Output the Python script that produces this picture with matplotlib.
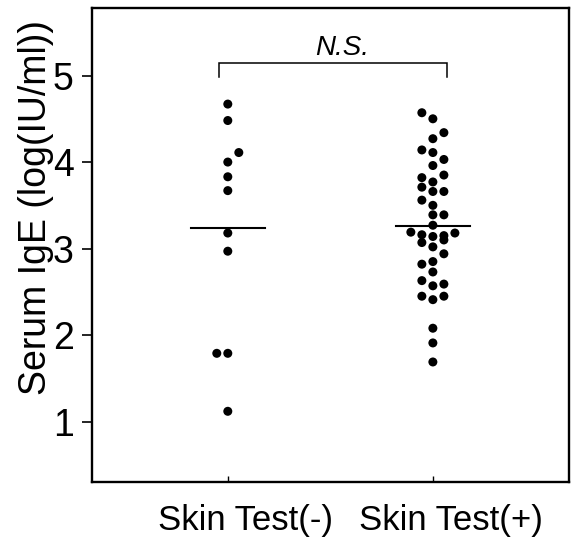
import numpy as np
import matplotlib
matplotlib.use("Agg")
import matplotlib.pyplot as plt
import matplotlib.transforms as mtransforms

plt.rcParams['font.family'] = ['Liberation Sans', 'DejaVu Sans']

groups = ["Skin Test(-)", "Skin Test(+)"]

# serum IgE values, with the swarm lane of each dot
neg_vals = [4.67, 4.48, 4.11, 4.00, 3.83, 3.67, 3.18, 2.97, 1.79, 1.79, 1.12]
neg_lane = [0, 0, 1, 0, 0, 0, 0, 0, -1, 0, 0]

pos_vals = [4.57, 4.50, 4.34, 4.27, 4.14, 4.11, 4.03, 3.96, 3.85, 3.82,
            3.77, 3.71, 3.66, 3.66, 3.56, 3.50, 3.39, 3.39, 3.27, 3.19,
            3.16, 3.14, 3.15, 3.10, 3.18, 3.07, 3.02, 2.94, 2.82, 2.85,
            2.73, 2.63, 2.57, 2.59, 2.45, 2.41, 2.45, 2.08, 1.91, 1.69]
pos_lane = [-1, 0, 1, 0, -1, 0, 1, 0, 1, -1,
            0, -1, 0, 1, -1, 0, 0, 1, 0, -2,
            -1, 0, 1, 1, 2, -1, 0, 1, -1, 0,
            0, -1, 0, 1, -1, 0, 1, 0, 0, 0]

yticks = [1, 2, 3, 4, 5]

lane_w = 0.0537

fig = plt.figure(figsize=(5.74, 5.42), dpi=100)
ax = fig.add_axes([0.160, 0.1107, 0.831, 0.8745])

for i, (vals, lanes) in enumerate([(neg_vals, neg_lane), (pos_vals, pos_lane)]):
    xc = i + 1
    xs = xc + np.array(lanes) * lane_w
    ax.scatter(xs, vals, s=42, color='black', edgecolors='none', zorder=3)
    m = np.mean(vals)
    ax.plot([xc - 0.18, xc + 0.18], [m, m], color='black', lw=1.5, zorder=2)

# significance bracket
ax.plot([0.956, 0.956, 2.068, 2.068], [4.98, 5.15, 5.15, 4.98],
        color='black', lw=1.1, solid_joinstyle='miter')
ax.text(1.556, 5.17, "N.S.", ha='center', va='bottom', fontsize=20,
        style='italic')

ax.set_xlim(0.337, 2.663)
ax.set_ylim(0.303, 5.78)
ax.set_xticks([1, 2])
ax.set_xticklabels(groups, fontsize=25)
ax.set_yticks(yticks)
ax.set_yticklabels([str(t) for t in yticks], fontsize=27)
ax.tick_params(axis='x', direction='in', length=4, width=1, pad=16)
ax.tick_params(axis='y', direction='out', length=7, width=1.2, pad=6)
for sp in ax.spines.values():
    sp.set_linewidth(1.7)

# labels sit a little right of their ticks in the original
shift = mtransforms.ScaledTranslation(18 / 100, 0, fig.dpi_scale_trans)
for lab in ax.get_xticklabels():
    lab.set_transform(lab.get_transform() + shift)

fig.text(0.062, 0.618, "Serum IgE (log(IU/ml))", rotation=90,
         ha='center', va='center', fontsize=27)

fig.savefig("out.png", dpi=100)
